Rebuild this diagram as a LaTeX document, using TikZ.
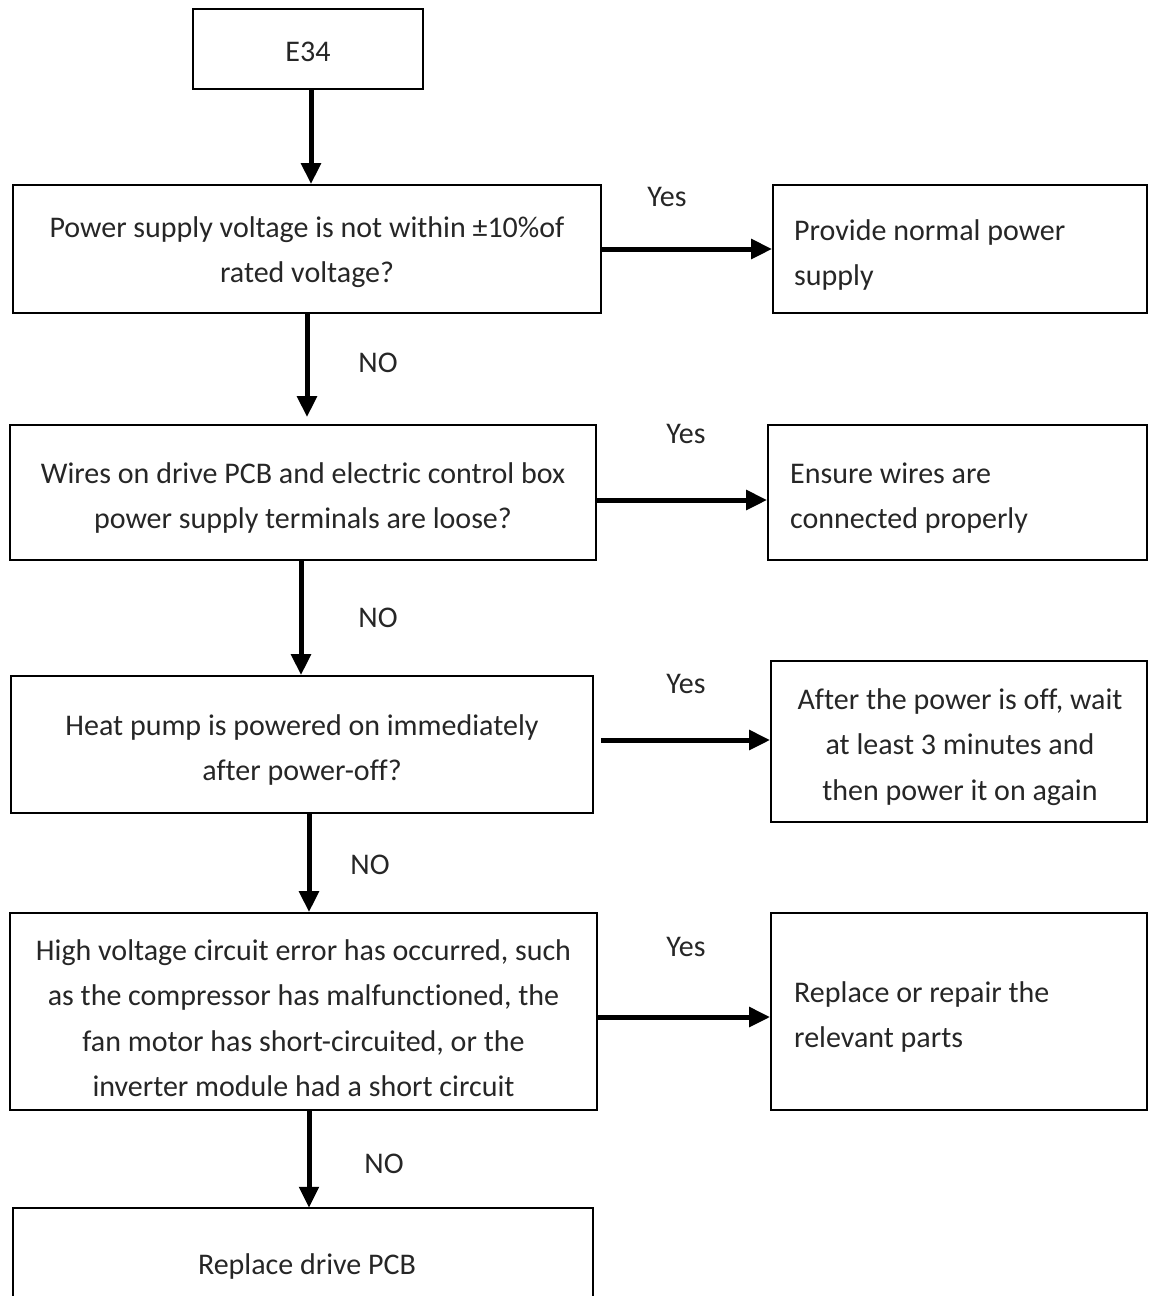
\documentclass[tikz,border=0pt]{standalone}
\usepackage{fontspec}
\setmainfont[Ligatures=NoCommon]{Carlito}
\usetikzlibrary{arrows.meta}
\begin{document}
\begin{tikzpicture}[x=1pt,y=-1pt,
  txt/.style={font=\fontsize{30}{45.5}\selectfont, text=black!85, inner sep=0pt, align=center},
  ltxt/.style={txt, align=flush left, anchor=west},
  box/.style={draw, line width=1.6pt, inner sep=0pt},
  lbl/.style={txt},
  arr/.style={line width=5pt, -{Triangle[length=21pt,width=19pt]}}]
\useasboundingbox (0,0) rectangle (1151,1296);
% left column boxes
\node[box, minimum width=230, minimum height=80] (e34) at (308,49) {};
\node[box, minimum width=588, minimum height=128] (b1) at (307,249) {};
\node[box, minimum width=586, minimum height=135] (b2) at (303,492.5) {};
\node[box, minimum width=582, minimum height=137] (b3) at (302,744.5) {};
\node[box, minimum width=587, minimum height=197] (b4) at (303.5,1011.5) {};
\node[minimum width=580, minimum height=96, inner sep=0pt] (b5) at (303,1256) {};
\draw[line width=1.6pt] (b5.south west) |- (b5.north east) -- (b5.south east);
% left column texts
\node[txt] (e34t) at (308,52) {E34};
\node[txt] (b1t) at (307,252) {Power supply voltage is not within ±10\%of\\rated voltage?};
\node[txt] (b2t) at (303,498) {Wires on drive PCB and electric control box\\power supply terminals are loose?};
\node[txt] (b3t) at (302,750) {Heat pump is powered on immediately\\after power-off?};
\node[txt] (b4t) at (303.5,1018) {High voltage circuit error has occurred, such\\as the compressor has malfunctioned, the\\fan motor has short-circuited, or the\\inverter module had a short circuit};
\node[txt] (b5t) at (307,1266) {Replace drive PCB};
% right column boxes
\node[box, minimum width=374, minimum height=128] (r1) at (960,249) {};
\node[box, minimum width=379, minimum height=135] (r2) at (957.5,492.5) {};
\node[box, minimum width=376, minimum height=161] (r3) at (959,741.5) {};
\node[box, minimum width=376, minimum height=197] (r4) at (959,1011.5) {};
% right column texts
\node[ltxt] (r1t) at (794,255) {Provide normal power\\supply};
\node[ltxt] (r2t) at (790,498) {Ensure wires are\\connected properly};
\node[txt] (r3t) at (960,747) {After the power is off, wait\\at least 3 minutes and\\then power it on again};
\node[ltxt] (r4t) at (794,1017) {Replace or repair the\\relevant parts};
% vertical arrows
\path (e34.south) ++(3,0) coordinate (v0);
\draw[arr] (v0) -- (v0 |- b1.north);
\path (b1.south) ++(0,0) coordinate (v1);
\draw[arr] (v1) -- ([yshift=7pt]v1 |- b2.north);
\path (b2.south) ++(-2,0) coordinate (v2);
\draw[arr] (v2) -- (v2 |- b3.north);
\path (b3.south) ++(7,0) coordinate (v3);
\draw[arr] (v3) -- (v3 |- b4.north);
\path (b4.south) ++(5.5,0) coordinate (v4);
\draw[arr] (v4) -- (v4 |- b5.north);
% horizontal arrows
\draw[arr] (b1.east) -- (b1.east -| r1.west);
\path (b2.east) ++(0,7.5) coordinate (h2);
\draw[arr] (h2) -- (h2 -| r2.west);
\path (b3.east) ++(7,-4.5) coordinate (h3);
\draw[arr] (h3) -- (h3 -| r3.west);
\path (b4.east) ++(0,5.5) coordinate (h4);
\draw[arr] (h4) -- (h4 -| r4.west);
% labels
\node[lbl] (y1) at (667,197) {Yes};
\node[lbl] (y2) at (686,434) {Yes};
\node[lbl] (y3) at (686,684) {Yes};
\node[lbl] (y4) at (686,947) {Yes};
\node[lbl] (n1) at (378,363) {NO};
\node[lbl] (n2) at (378,618) {NO};
\node[lbl] (n3) at (370,865) {NO};
\node[lbl] (n4) at (384,1164) {NO};
\end{tikzpicture}
\end{document}
